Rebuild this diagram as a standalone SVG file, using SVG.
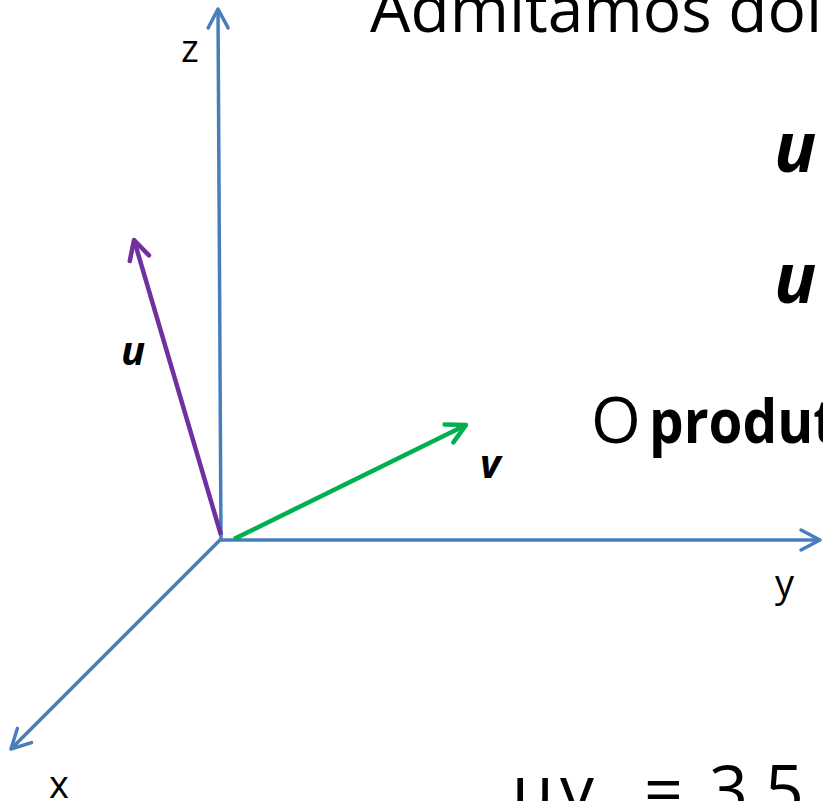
<svg xmlns="http://www.w3.org/2000/svg" width="823" height="801" viewBox="0 0 823 801">
  <style>
    .axis { stroke: #4A7EBB; stroke-width: 3.5; fill: none; }
    .vu { stroke: #7030A0; stroke-width: 4.5; fill: none; }
    .vv { stroke: #00B050; stroke-width: 4.5; fill: none; }
    .lbl { font-family: "Open Sans", "Noto Sans", sans-serif; fill: #000; }
    .bi { font-weight: bold; font-style: italic; }
    .b { font-weight: bold; }
  </style>
  <defs>
    <marker id="arrBlue" markerUnits="userSpaceOnUse" markerWidth="30" markerHeight="30" viewBox="-25 -15 30 30" refX="0" refY="0" orient="auto">
      <path d="M-19,-10 L0,0 L-19,10" fill="none" stroke="#4A7EBB" stroke-width="3.5" stroke-linecap="round" stroke-linejoin="round"/>
    </marker>
    <marker id="arrPurple" markerUnits="userSpaceOnUse" markerWidth="30" markerHeight="30" viewBox="-25 -15 30 30" refX="0" refY="0" orient="auto">
      <path d="M-19,-10 L0,0 L-19,10" fill="none" stroke="#7030A0" stroke-width="4.5" stroke-linecap="round" stroke-linejoin="round"/>
    </marker>
    <marker id="arrGreen" markerUnits="userSpaceOnUse" markerWidth="30" markerHeight="30" viewBox="-25 -15 30 30" refX="0" refY="0" orient="auto">
      <path d="M-19,-10 L0,0 L-19,10" fill="none" stroke="#00B050" stroke-width="4.5" stroke-linecap="round" stroke-linejoin="round"/>
    </marker>
  </defs>
  <rect width="823" height="801" fill="#fff"/>

  <g id="connectors">
    <line id="axis-z" class="axis" x1="221" y1="539" x2="218" y2="9" marker-end="url(#arrBlue)"/>
    <line id="axis-y" class="axis" x1="220" y1="540" x2="820" y2="540" marker-end="url(#arrBlue)"/>
    <line id="axis-x" class="axis" x1="221" y1="539" x2="11" y2="749" marker-end="url(#arrBlue)"/>
    <line id="vec-u" class="vu" x1="221" y1="535" x2="134" y2="240" marker-end="url(#arrPurple)"/>
    <line id="vec-v" class="vv" x1="234" y1="539" x2="466" y2="425" marker-end="url(#arrGreen)"/>
  </g>

  <g id="label-z"><text class="lbl" x="181" y="62" font-size="38">z</text></g>
  <g id="label-y"><text class="lbl" x="775" y="597" font-size="38">y</text></g>
  <g id="label-x"><text class="lbl" x="49" y="798" font-size="38">x</text></g>
  <g id="label-u"><text class="lbl bi" x="121" y="365" font-size="40">u</text></g>
  <g id="label-v"><text class="lbl bi" x="480" y="478" font-size="40">v</text></g>

  <g id="heading"><text class="lbl" x="370" y="32" font-size="64">Admitamos dois</text></g>
  <g id="u-line1"><text class="lbl bi" x="774" y="172" font-size="70">u</text></g>
  <g id="u-line2"><text class="lbl bi" x="774" y="303" font-size="70">u</text></g>
  <g id="produto"><text class="lbl" x="591" y="443" font-size="64">O</text><text class="lbl b" x="649" y="443" font-size="60" textLength="222" lengthAdjust="spacingAndGlyphs">produto</text></g>
  <g id="result"><text class="lbl" y="814" font-size="68" x="512 547 560 600 644 690 709 747 765">u.v = 3.5</text></g>
</svg>
